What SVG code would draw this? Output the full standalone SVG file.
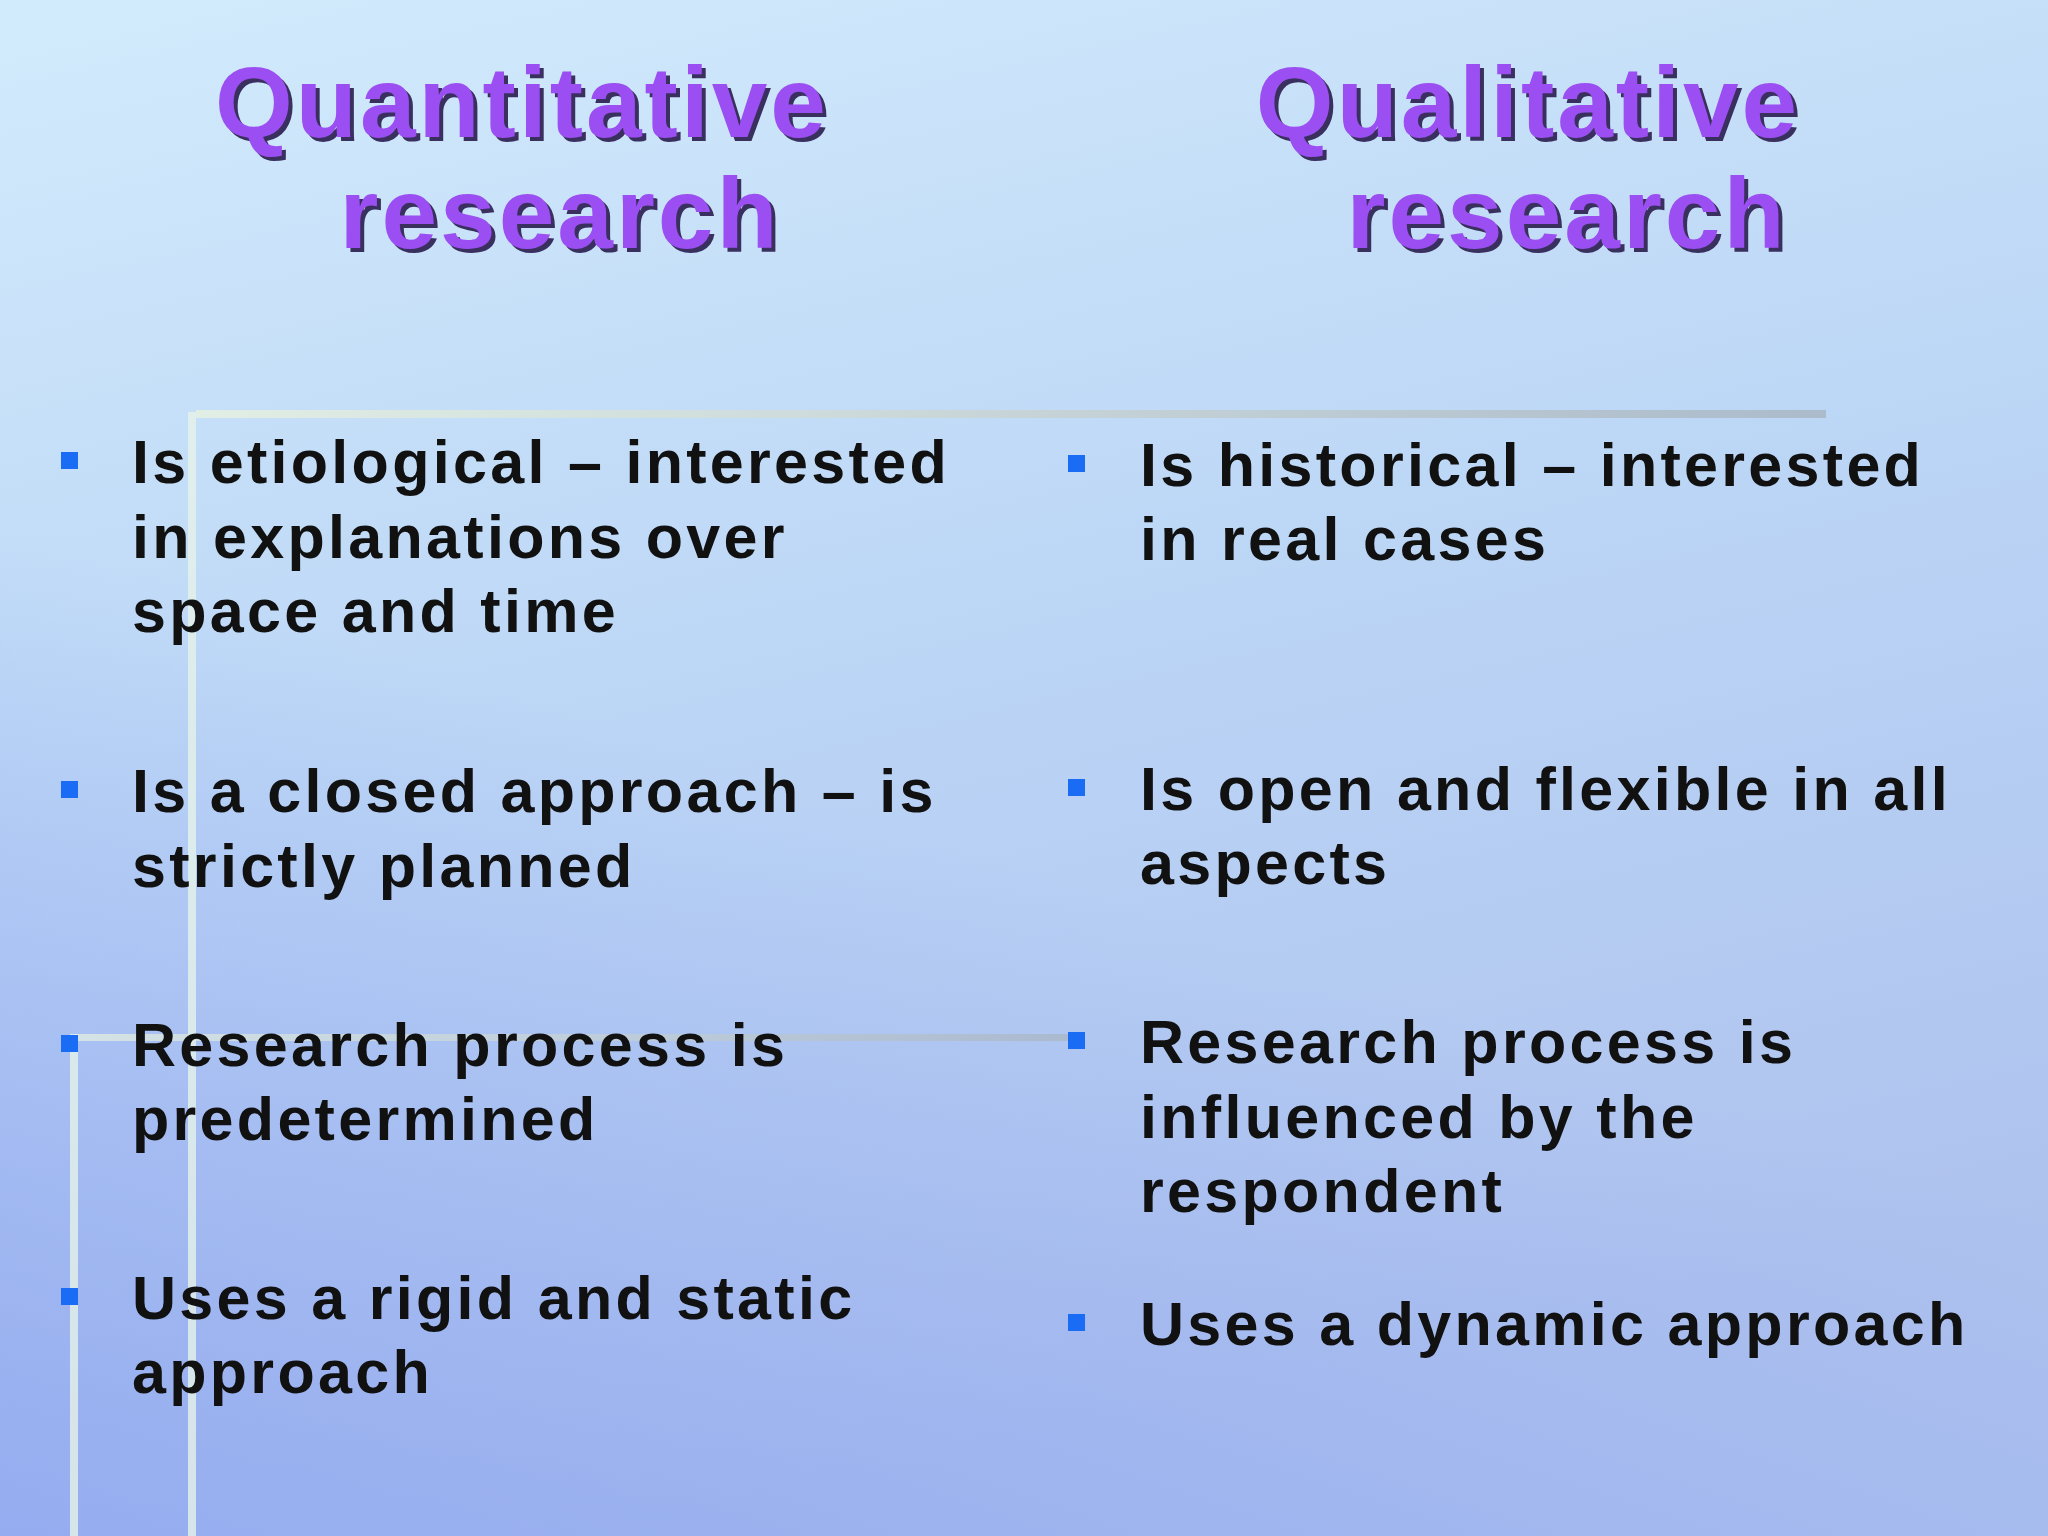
<svg xmlns="http://www.w3.org/2000/svg" width="2048" height="1536" viewBox="0 0 2048 1536">
<defs>
<linearGradient id="bg" x1="0" y1="0" x2="0.3" y2="1">
<stop offset="0" stop-color="#d2ebfc"/>
<stop offset="0.5" stop-color="#bcd6f6"/>
<stop offset="1" stop-color="#aec2ee"/>
</linearGradient>
<linearGradient id="lf" x1="0" y1="1" x2="0.25" y2="0.45">
<stop offset="0" stop-color="#8ea6f0" stop-opacity="0.8"/>
<stop offset="1" stop-color="#8ea6f0" stop-opacity="0"/>
</linearGradient>
<linearGradient id="hl" x1="0" y1="0" x2="1" y2="0">
<stop offset="0" stop-color="#e8f2e0"/>
<stop offset="1" stop-color="#a8b4c0"/>
</linearGradient>
<style>
.t{font-family:"Liberation Sans",Arial,sans-serif;font-weight:bold;font-size:100px;letter-spacing:3px;fill:#9b4ff2;text-anchor:middle}
.ts{font-family:"Liberation Sans",Arial,sans-serif;font-weight:bold;font-size:100px;letter-spacing:3px;fill:#3a3060;text-anchor:middle}
.b{font-family:"Liberation Sans",Arial,sans-serif;font-weight:bold;font-size:61px;letter-spacing:3.3px;fill:#111}
.sq{fill:#1a6cf5}
</style>
</defs>
<rect width="2048" height="1536" fill="url(#bg)"/>
<rect width="2048" height="1536" fill="url(#lf)"/>
<g id="decor">
<rect x="188" y="412" width="8" height="1124" fill="#e6f2e8" opacity="0.8"/>
<rect x="196" y="410" width="1630" height="8" fill="url(#hl)" opacity="0.8"/>
<rect x="70" y="1034" width="8" height="502" fill="#e6f2e8" opacity="0.8"/>
<rect x="74" y="1034" width="1000" height="7" fill="url(#hl)" opacity="0.7"/>
</g>
<g id="titles">
<text class="ts" x="526" y="141">Quantitative</text>
<text class="t" x="522" y="137">Quantitative</text>
<text class="ts" x="564" y="252">research</text>
<text class="t" x="560" y="248">research</text>
<text class="ts" x="1532" y="141">Qualitative</text>
<text class="t" x="1528" y="137">Qualitative</text>
<text class="ts" x="1571" y="252">research</text>
<text class="t" x="1567" y="248">research</text>
</g>
<g id="left">
<rect class="sq" x="61" y="452" width="17" height="17"/>
<text class="b" x="132" y="483">Is etiological – interested</text>
<text class="b" x="132" y="558">in explanations over</text>
<text class="b" x="132" y="632">space and time</text>
<rect class="sq" x="61" y="781" width="17" height="17"/>
<text class="b" x="132" y="812">Is a closed approach – is</text>
<text class="b" x="132" y="887">strictly planned</text>
<rect class="sq" x="61" y="1035" width="17" height="17"/>
<text class="b" x="132" y="1066">Research process is</text>
<text class="b" x="132" y="1140">predetermined</text>
<rect class="sq" x="61" y="1288" width="17" height="17"/>
<text class="b" x="132" y="1319">Uses a rigid and static</text>
<text class="b" x="132" y="1393">approach</text>
</g>
<g id="right">
<rect class="sq" x="1068" y="455" width="17" height="17"/>
<text class="b" x="1140" y="486">Is historical – interested</text>
<text class="b" x="1140" y="560">in real cases</text>
<rect class="sq" x="1068" y="779" width="17" height="17"/>
<text class="b" x="1140" y="810">Is open and flexible in all</text>
<text class="b" x="1140" y="884">aspects</text>
<rect class="sq" x="1068" y="1032" width="17" height="17"/>
<text class="b" x="1140" y="1063">Research process is</text>
<text class="b" x="1140" y="1138">influenced by the</text>
<text class="b" x="1140" y="1212">respondent</text>
<rect class="sq" x="1068" y="1314" width="17" height="17"/>
<text class="b" x="1140" y="1345">Uses a dynamic approach</text>
</g>
</svg>
